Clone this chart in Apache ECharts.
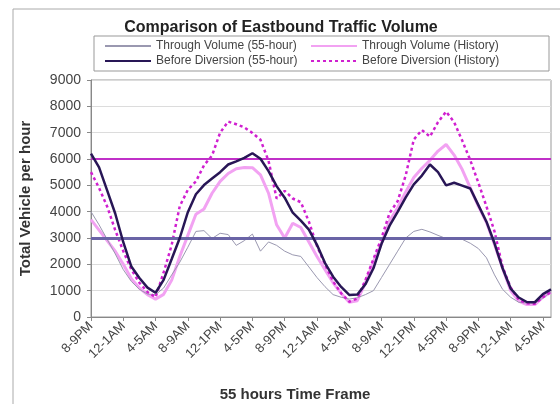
<!DOCTYPE html>
<html>
<head>
<meta charset="utf-8">
<script src="https://cdn.jsdelivr.net/npm/echarts@6/dist/echarts.min.js"></script>
<style>
  html, body { margin: 0; padding: 0; background: #fff; }
  #chart { width: 560px; height: 404px; }
</style>
</head>
<body>
<div id="chart"></div>
<script>
// hourly categories, starting 8-9PM, labelled every 4 hours
const hourNames = ["12-1AM", "1-2AM", "2-3AM", "3-4AM", "4-5AM", "5-6AM", "6-7AM", "7-8AM",
  "8-9AM", "9-10AM", "10-11AM", "11-12PM", "12-1PM", "1-2PM", "2-3PM", "3-4PM",
  "4-5PM", "5-6PM", "6-7PM", "7-8PM", "8-9PM", "9-10PM", "10-11PM", "11-12AM"];
const categories = [];
for (let i = 0; i < 58; i++) categories.push(hourNames[(20 + i) % 24]);

const throughNow = [4000, 3500, 2950, 2400, 1800, 1350, 1050, 870, 850, 1100,
  1600, 2080, 2650, 3250, 3280, 2980, 3180, 3130, 2720, 2900,
  3150, 2500, 2850, 2720, 2500, 2360, 2300, 1900, 1500, 1150,
  850, 750, 680, 730, 850, 1000, 1500, 2000, 2500, 3000,
  3250, 3330, 3230, 3100, 2980, 2950, 2950, 2800, 2600, 2250,
  1600, 1050, 750, 560, 530, 530, 720, 950];
const throughHist = [3700, 3300, 2900, 2500, 2000, 1450, 1100, 850, 680, 860,
  1400, 2300, 3100, 3900, 4100, 4700, 5150, 5450, 5630, 5680,
  5670, 5400, 4700, 3500, 3000, 3560, 3400, 2850, 2300, 1800,
  1300, 900, 560, 620, 1300, 2100, 2800, 3650, 4150, 4750,
  5300, 5650, 5950, 6300, 6550, 6150, 5600, 4900, 4200, 3600,
  2750, 1850, 1000, 600, 470, 470, 750, 950];
const beforeNow = [6200, 5680, 4810, 3930, 2840, 1915, 1480, 1115, 920, 1410,
  2200, 3000, 3980, 4660, 5010, 5260, 5500, 5790, 5910, 6040,
  6220, 6010, 5540, 4970, 4530, 3960, 3660, 3320, 2740, 2050,
  1530, 1140, 840, 850, 1240, 1850, 2780, 3470, 3990, 4540,
  5040, 5370, 5790, 5500, 5000, 5100, 4990, 4880, 4250, 3620,
  2800, 1850, 1080, 740, 570, 560, 870, 1050];
const beforeHist = [5500, 4900, 4200, 3300, 2500, 1800, 1300, 950, 750, 1690,
  2740, 4210, 4830, 5150, 5760, 6130, 7000, 7420, 7320, 7200,
  6990, 6730, 5930, 4500, 4790, 4500, 4360, 3620, 2700, 2000,
  1350, 900, 580, 700, 1400, 2200, 3000, 3950, 4400, 5380,
  6740, 7100, 6850, 7400, 7800, 7400, 6700, 5950, 5100, 4200,
  3250, 1900, 1120, 650, 520, 500, 750, 950];
const capacityLines = [6000, 3000];

const myChart = echarts.init(document.getElementById("chart"));
const font = "Liberation Sans, Arial, sans-serif";

const legendBase = {
  orient: "vertical",
  top: 35,
  itemGap: 3,
  itemWidth: 46,
  itemHeight: 12,
  itemStyle: { opacity: 0 },
  textStyle: { fontSize: 12, color: "#444", fontFamily: font }
};

myChart.setOption({
  animation: false,
  backgroundColor: "#fff",
  textStyle: { fontFamily: font },
  title: {
    text: "Comparison of Eastbound Traffic Volume",
    left: 276,
    textAlign: "center",
    top: 15,
    textStyle: { fontSize: 16, fontWeight: "bold", color: "#222", fontFamily: font }
  },
  graphic: [
    {
      type: "rect",
      shape: { x: 13, y: 9, width: 600, height: 500 },
      style: { fill: "none", stroke: "#aaa", lineWidth: 1 },
      silent: true
    },
    {
      type: "rect",
      shape: { x: 94, y: 36, width: 455, height: 35 },
      style: { fill: "none", stroke: "#999", lineWidth: 1 },
      silent: true
    }
  ],
  legend: [
    Object.assign({}, legendBase, {
      data: ["Through Volume (55-hour)", "Before Diversion (55-hour)"],
      left: 99
    }),
    Object.assign({}, legendBase, {
      data: ["Through Volume (History)", "Before Diversion (History)"],
      left: 305
    })
  ],
  grid: {
    left: 91,
    right: 9,
    top: 80,
    bottom: 87,
    outerBoundsMode: "none",
    show: true,
    borderColor: "#999",
    borderWidth: 1
  },
  xAxis: {
    type: "category",
    data: categories,
    boundaryGap: false,
    name: "55 hours Time Frame",
    nameLocation: "middle",
    nameGap: 70,
    nameTextStyle: { fontSize: 15, fontWeight: "bold", color: "#333", fontFamily: font, padding: [0, 52, 0, 0] },
    axisLine: { lineStyle: { color: "#888" } },
    axisTick: { interval: 3, length: 4, lineStyle: { color: "#888" } },
    axisLabel: { interval: 3, rotate: 45, fontSize: 13, color: "#444", margin: 7 },
    splitLine: { show: false }
  },
  yAxis: {
    type: "value",
    min: 0,
    max: 9000,
    interval: 1000,
    name: "Total Vehicle per hour",
    nameLocation: "middle",
    nameGap: 58,
    nameTextStyle: { fontSize: 15, fontWeight: "bold", color: "#333", fontFamily: font },
    axisLine: { show: true, lineStyle: { color: "#888" } },
    axisTick: { show: true, length: 4, lineStyle: { color: "#888" } },
    axisLabel: { fontSize: 14, color: "#444", margin: 10, formatter: (v) => String(v) },
    splitLine: { lineStyle: { color: "#dcdcdc", width: 1 } }
  },
  series: [
    {
      name: "Through Volume (History)",
      type: "line",
      data: throughHist,
      symbol: "none",
      lineStyle: { color: "#f2a2f2", width: 3 },
      itemStyle: { color: "#f2a2f2" },
      z: 2,
      markLine: {
        silent: true,
        symbol: "none",
        label: { show: false },
        data: [
          { yAxis: capacityLines[0], lineStyle: { color: "#c030c8", width: 2, type: "solid" } },
          { yAxis: capacityLines[1], lineStyle: { color: "#6a64a6", width: 3, type: "solid" } }
        ]
      }
    },
    {
      name: "Through Volume (55-hour)",
      type: "line",
      data: throughNow,
      symbol: "none",
      lineStyle: { color: "#9a98b0", width: 1 },
      itemStyle: { color: "#9a98b0" },
      z: 3
    },
    {
      name: "Before Diversion (History)",
      type: "line",
      data: beforeHist,
      symbol: "none",
      lineStyle: { color: "#d020d0", width: 2.5, type: [3, 3] },
      itemStyle: { color: "#d020d0" },
      z: 4
    },
    {
      name: "Before Diversion (55-hour)",
      type: "line",
      data: beforeNow,
      symbol: "none",
      lineStyle: { color: "#281656", width: 2.5 },
      itemStyle: { color: "#281656" },
      z: 5
    }
  ]
});
</script>
</body>
</html>
